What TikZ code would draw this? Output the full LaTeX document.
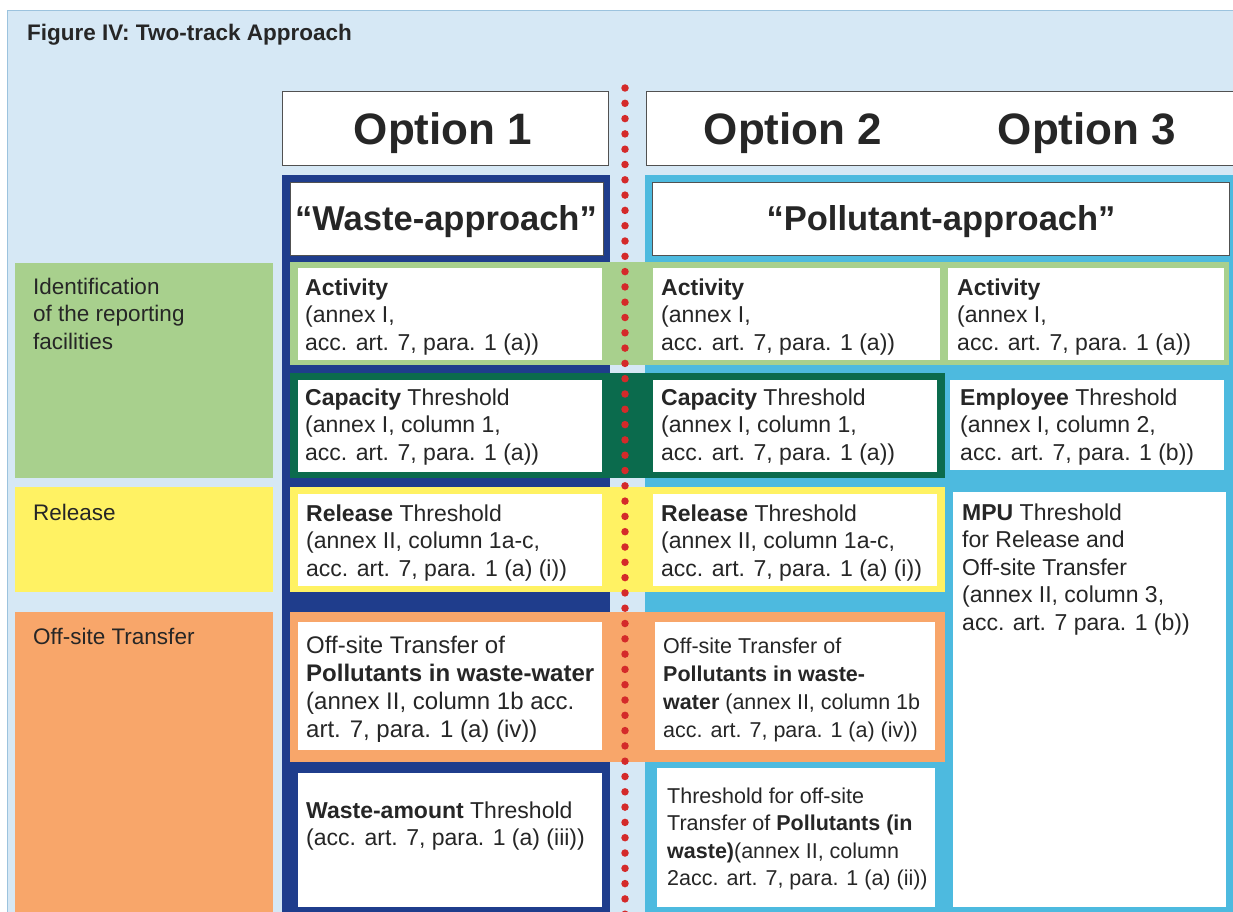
\documentclass[tikz,border=0pt]{standalone}
\usepackage{fontspec}
\setmainfont{Liberation Sans}
\definecolor{bgblue}{HTML}{D6E8F5}
\definecolor{bgline}{HTML}{9CC3DE}
\definecolor{navy}{HTML}{1F3D8C}
\definecolor{skyblue}{HTML}{4DBADF}
\definecolor{lgreen}{HTML}{A8D08D}
\definecolor{dgreen}{HTML}{0B6B4D}
\definecolor{lyellow}{HTML}{FFF263}
\definecolor{lorange}{HTML}{F8A66A}
\definecolor{reddot}{HTML}{D42A2A}
\definecolor{ink}{HTML}{262626}
\tikzset{
  headbox/.style={draw=ink!80, line width=1.1pt, fill=white, anchor=north west, inner sep=0pt},
  headtext/.style={anchor=base, inner sep=0pt, text=ink, font=\fontsize{44}{50}\selectfont\bfseries},
  aptext/.style={anchor=base, inner sep=0pt, text=ink, font=\fontsize{34.5}{40}\selectfont\bfseries},
  celltext/.style={anchor=north west, inner sep=0pt, align=left, text=ink, font=\fontsize{23}{27.5}\selectfont},
  labtext/.style={celltext, font=\fontsize{22.5}{27.5}\selectfont},
  smalltext/.style={celltext, font=\fontsize{21.5}{27.5}\selectfont},
  reddots/.style={draw=reddot, line width=7.5pt, line cap=round, dash pattern=on 0pt off 15.3pt}
}
\begin{document}
\begin{tikzpicture}[x=1pt,y=-1pt]
\useasboundingbox (0,0) rectangle (1233,912);
\fill[white] (0,0) rectangle (1233,912);
\filldraw[fill=bgblue, draw=bgline] (7,10) rectangle (1240,920);
\node[anchor=base west, inner sep=0pt, text=ink, font=\fontsize{22.5}{27}\selectfont\bfseries] (title) at (27,41) {Figure IV: Two-track Approach};

\fill[lgreen] (15,263) rectangle (273,478);
\fill[lyellow] (15,487) rectangle (273,592);
\fill[lorange] (15,612) rectangle (273,920);
\node[labtext] (idlab) at (33,275) {\strut Identification\\of the reporting\\facilities};
\node[labtext] (rellab) at (33,501) {\strut Release};
\node[labtext] (offlab) at (33,625) {\strut Off-site Transfer};

\fill[navy] (282,175) rectangle (610,920);
\fill[skyblue] (645,175) rectangle (1240,920);
\node[headbox, minimum width=326pt, minimum height=74pt] (opt1box) at (282,91) {};
\node[headbox, minimum width=594pt, minimum height=74pt] (opt23box) at (646,91) {};
\node[headtext] (opt1) at (443,145) {Option 1};
\node[headtext] (opt2) at (793,145) {Option 2};
\node[headtext] (opt3) at (1087,145) {Option 3};
\node[headbox, minimum width=313pt, minimum height=73pt] (wastebox) at (290,182) {};
\node[headbox, minimum width=577pt, minimum height=73pt] (pollbox) at (652,182) {};
\node[aptext] (waste) at (446,230) {“Waste-approach”};
\node[aptext] (poll) at (941,230) {“Pollutant-approach”};

\fill[lgreen] (290,262) rectangle (1229,365);
\fill[dgreen] (290,373) rectangle (945,478);
\fill[lyellow] (290,487) rectangle (945,592);
\fill[lorange] (290,612) rectangle (945,762);
\foreach \xa/\xb in {298/602,653/940,948/1224}
  \fill[white] (\xa,268) rectangle (\xb,360);
\fill[white] (298,380) rectangle (602,472);
\fill[white] (653,380) rectangle (937,472);
\fill[white] (950,380) rectangle (1224,470);
\fill[white] (298,494) rectangle (602,586);
\fill[white] (653,494) rectangle (937,586);
\fill[white] (953,492) rectangle (1226,907);
\fill[white] (298,622) rectangle (602,750);
\fill[white] (655,622) rectangle (935,750);
\fill[white] (298,773) rectangle (602,907);
\fill[white] (657,768) rectangle (935,907);

\foreach \xa/\nm in {305/act1,661/act2,957/act3}
  \node[celltext] (\nm) at (\xa,275.75) {\strut\textbf{Activity}\\(annex I,\\acc. art. 7, para. 1 (a))};
\node[celltext] (cap1) at (305,385.75) {\strut\textbf{Capacity} Threshold\\(annex I, column 1,\\acc. art. 7, para. 1 (a))};
\node[celltext] (cap2) at (661,385.75) {\strut\textbf{Capacity} Threshold\\(annex I, column 1,\\acc. art. 7, para. 1 (a))};
\node[celltext] (emp3) at (960,385.75) {\strut\textbf{Employee} Threshold\\(annex I, column 2,\\acc. art. 7, para. 1 (b))};
\node[celltext] (rel1) at (306,501.75) {\strut\textbf{Release} Threshold\\(annex II, column 1a-c,\\acc. art. 7, para. 1 (a) (i))};
\node[celltext] (rel2) at (661,501.75) {\strut\textbf{Release} Threshold\\(annex II, column 1a-c,\\acc. art. 7, para. 1 (a) (i))};
\node[celltext] (mpu3) at (962,500.75) {\strut\textbf{MPU} Threshold\\for Release and\\Off-site Transfer\\(annex II, column 3,\\acc. art. 7 para. 1 (b))};
\node[celltext, font=\fontsize{24}{28}\selectfont] (off1) at (306,633.4) {\strut Off-site Transfer of\\\textbf{Pollutants in waste-water}\\(annex II, column 1b acc.\\art. 7, para. 1 (a) (iv))};
\node[smalltext, font=\fontsize{21.5}{28}\selectfont] (off2) at (663,633.4) {\strut Off-site Transfer of\\\textbf{Pollutants in waste-}\\\textbf{water} (annex II, column 1b\\acc. art. 7, para. 1 (a) (iv))};
\node[celltext] (wam1) at (306,798.75) {\strut\textbf{Waste-amount} Threshold\\(acc. art. 7, para. 1 (a) (iii))};
\node[smalltext] (thr2) at (667,783.75) {\strut Threshold for off-site\\Transfer of \textbf{Pollutants (in}\\\textbf{waste)}(annex II, column\\2acc. art. 7, para. 1 (a) (ii))};

\draw[reddots] (625,88) -- (625,915);
\end{tikzpicture}
\end{document}
